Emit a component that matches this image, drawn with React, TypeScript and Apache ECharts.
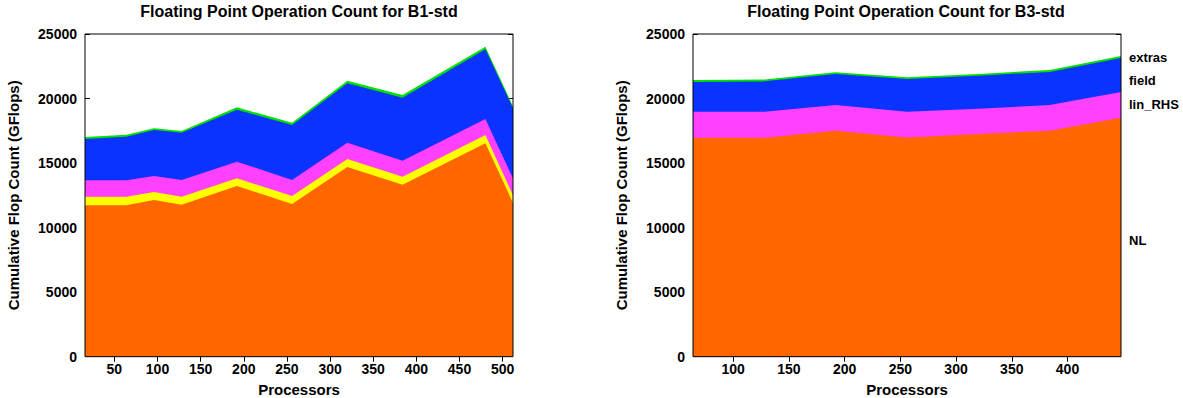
import React, { useEffect, useRef } from "react";
import * as echarts from "echarts";

// ---- Left chart (B1-std) ----
const leftTitle = "Floating Point Operation Count for B1-std";
const leftProcs = [16, 64, 96, 128, 192, 256, 320, 384, 480, 512];
const leftNL = [11730, 11730, 12140, 11780, 13220, 11830, 14700, 13330, 16530, 11900];
const leftSolve = [670, 670, 620, 620, 600, 620, 620, 620, 650, 600];
const leftLinRHS = [1270, 1270, 1240, 1290, 1290, 1240, 1260, 1240, 1230, 1300];
const leftField = [3200, 3370, 3560, 3660, 4030, 4260, 4600, 4880, 5400, 5450];
const leftExtras = [150, 150, 130, 130, 180, 180, 200, 200, 210, 150];
const leftTicks = [50, 100, 150, 200, 250, 300, 350, 400, 450, 500];

// ---- Right chart (B3-std) ----
const rightTitle = "Floating Point Operation Count for B3-std";
const rightProcs = [64, 128, 192, 256, 320, 384, 448];
const rightNL = [16970, 16970, 17510, 16990, 17250, 17510, 18520];
const rightLinRHS = [2010, 2010, 1990, 1990, 1960, 1990, 1990];
const rightField = [2300, 2350, 2400, 2530, 2560, 2560, 2630];
const rightExtras = [150, 150, 130, 130, 140, 150, 150];
const rightTicks = [100, 150, 200, 250, 300, 350, 400];

const yTickStep = 5000;
const yMax = 25000;
const xName = "Processors";
const yName = "Cumulative Flop Count (GFlops)";
const bandLabels = ["extras", "field", "lin_RHS", "NL"];

const COLORS: Record<string, string> = {
  NL: "#ff6600",
  solve: "#ffff00",
  lin_RHS: "#ff40ff",
  field: "#0a33ff",
  extras: "#00e000",
};

const FONT = "'Liberation Sans', Arial, Helvetica, sans-serif";

// cumulative layers: bottom to top; drawn top layer first so lower ones cover it
function stackedSeries(
  xs: number[],
  layers: { name: string; values: number[] }[],
  axisIdx: number
) {
  const cum: number[][] = [];
  let run = xs.map(() => 0);
  layers.forEach((l) => {
    run = run.map((v, i) => v + l.values[i]);
    cum.push(run.slice());
  });
  const out: any[] = [];
  for (let k = layers.length - 1; k >= 0; k--) {
    const color = COLORS[layers[k].name];
    out.push({
      name: layers[k].name,
      type: "line",
      xAxisIndex: axisIdx,
      yAxisIndex: axisIdx,
      data: xs.map((x, i) => [x, cum[k][i]]),
      symbol: "none",
      lineStyle: { width: 0, color },
      itemStyle: { color },
      areaStyle: { color, opacity: 1, origin: "start" },
      z: 2,
    });
  }
  return out;
}

const G0 = { left: 85, top: 34, width: 428, height: 322.7 };
const G1 = { left: 693, top: 34, width: 428, height: 322.7 };

export default function App() {
  const ref = useRef<HTMLDivElement>(null);
  useEffect(() => {
    if (!ref.current) return;
    const chart = echarts.init(ref.current, undefined, { renderer: "svg" });
    const labelStyle = { color: "#000", fontFamily: FONT, fontWeight: "bold" as const, fontSize: 14 };
    const mkX = (grid: number, min: number, max: number, ticks: number[], bottom: boolean) => ({
      type: "value",
      gridIndex: grid,
      position: bottom ? "bottom" : "top",
      min,
      max,
      axisLine: { show: false },
      splitLine: { show: false },
      axisTick: { show: true, inside: true, length: 5, customValues: ticks, lineStyle: { color: "#000" } },
      axisLabel: bottom
        ? { show: true, customValues: ticks, margin: 5, formatter: (v: number) => String(v), ...labelStyle }
        : { show: false },
      name: bottom ? xName : "",
      nameLocation: "middle",
      nameGap: 25,
      nameTextStyle: { ...labelStyle, fontSize: 15, lineHeight: 15 },
      z: 0,
    });
    const mkY = (grid: number, left: boolean) => ({
      type: "value",
      gridIndex: grid,
      position: left ? "left" : "right",
      min: 0,
      max: yMax,
      interval: yTickStep,
      axisLine: { show: false },
      splitLine: { show: false },
      axisTick: { show: true, inside: true, length: 5, lineStyle: { color: "#000" } },
      axisLabel: left
        ? { show: true, margin: 8, formatter: (v: number) => String(v), ...labelStyle }
        : { show: false },
      name: left ? yName : "",
      nameLocation: "middle",
      nameGap: 64,
      nameTextStyle: { ...labelStyle, fontSize: 15 },
      z: 0,
    });
    const frame = (g: typeof G0) => ({
      type: "rect",
      z: 100,
      shape: { x: g.left, y: g.top, width: g.width, height: g.height },
      style: { fill: "none", stroke: "#000", lineWidth: 1 },
      silent: true,
    });
    const bandText = (text: string, y: number) => ({
      type: "text",
      x: 1129,
      y,
      z: 100,
      style: { text, fill: "#000", font: `bold 13px ${FONT}`, textVerticalAlign: "middle" },
    });
    const titleStyle = { color: "#000", fontFamily: FONT, fontWeight: "bold", fontSize: 16 };
    chart.setOption({
      animation: false,
      backgroundColor: "#fff",
      title: [
        { text: leftTitle, left: 294, top: -2, textAlign: "center", textStyle: titleStyle },
        { text: rightTitle, left: 901, top: -2, textAlign: "center", textStyle: titleStyle },
      ],
      grid: [
        { ...G0, containLabel: false, outerBoundsMode: "none" },
        { ...G1, containLabel: false, outerBoundsMode: "none" },
      ],
      xAxis: [
        mkX(0, leftProcs[0], leftProcs[leftProcs.length - 1], leftTicks, true),
        mkX(1, rightProcs[0], rightProcs[rightProcs.length - 1], rightTicks, true),
        mkX(0, leftProcs[0], leftProcs[leftProcs.length - 1], leftTicks, false),
        mkX(1, rightProcs[0], rightProcs[rightProcs.length - 1], rightTicks, false),
      ],
      yAxis: [mkY(0, true), mkY(1, true), mkY(0, false), mkY(1, false)],
      series: [
        ...stackedSeries(
          leftProcs,
          [
            { name: "NL", values: leftNL },
            { name: "solve", values: leftSolve },
            { name: "lin_RHS", values: leftLinRHS },
            { name: "field", values: leftField },
            { name: "extras", values: leftExtras },
          ],
          0
        ),
        ...stackedSeries(
          rightProcs,
          [
            { name: "NL", values: rightNL },
            { name: "lin_RHS", values: rightLinRHS },
            { name: "field", values: rightField },
            { name: "extras", values: rightExtras },
          ],
          1
        ),
      ],
      graphic: [
        frame(G0),
        frame(G1),
        bandText(bandLabels[0], 57),
        bandText(bandLabels[1], 80),
        bandText(bandLabels[2], 104),
        bandText(bandLabels[3], 240),
      ],
    });
    return () => chart.dispose();
  }, []);
  return (
    <div
      ref={ref}
      style={{ position: "fixed", left: 0, top: 0, width: 1183, height: 398, background: "#fff" }}
    />
  );
}
